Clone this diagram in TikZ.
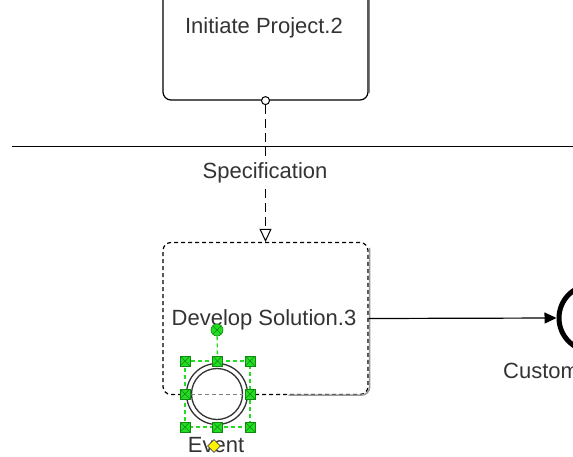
\documentclass[tikz,border=0pt]{standalone}
\usepackage{fontspec}
\setmainfont{Liberation Sans}
\usetikzlibrary{arrows.meta,shapes.geometric}
\definecolor{txt}{HTML}{333333}
\definecolor{hgreen}{HTML}{22DD22}
\definecolor{hdark}{HTML}{118811}
\tikzset{
  taskbox/.style={draw, rounded corners=8pt, line width=1.2pt, minimum width=205pt, inner sep=0pt},
  lbl/.style={text=txt, font=\fontsize{22}{24}\selectfont, inner sep=1pt},
  handle/.style={draw=hdark, fill=hgreen, minimum size=10pt, inner sep=0pt, line width=0.6pt,
    path picture={\draw[hdark, line width=0.6pt] (path picture bounding box.south west) -- (path picture bounding box.north east) (path picture bounding box.north west) -- (path picture bounding box.south east);}},
  msgflow/.style={dash pattern=on 9pt off 5pt, line width=1pt, -{Triangle[open, length=13pt, width=12pt]}},
}
\begin{document}
\begin{tikzpicture}[x=1pt,y=-1pt]
\useasboundingbox (0,0) rectangle (573,456);
\clip (0,0) rectangle (573,456);
% lane separator
\coordinate (laneL) at (12,146);
\coordinate (laneR) at (573,146);
\draw[line width=1pt] (laneL) -- (laneR);
% top task
\node[taskbox, minimum height=130pt] (init) at (265.5,35) {};
\draw[gray, line width=1.2pt] ([xshift=1pt,yshift=-20pt]init.north east) -- ([xshift=1pt,yshift=8pt]init.south east);
\node[lbl] (initlbl) at (264,28) {Initiate Project.2};
% bottom task
\node[taskbox, dash pattern=on 4pt off 3pt, minimum height=152pt] (sol) at (265.5,318.5) {};
\draw[gray!80, line width=1.6pt, rounded corners=8pt] ([xshift=1pt,yshift=-6pt]sol.north east) -- ([xshift=1pt]sol.south east) -- ([xshift=-80pt]sol.south east);
\node[lbl] (sollbl) at (264,320) {Develop Solution.3};
% message flow
\node[draw, circle, minimum size=8pt, inner sep=0pt, fill=white, line width=1pt] (src) at (init.south) {};
\draw[msgflow] (src) -- (sol.north);
\node[lbl, fill=white, inner sep=3pt] (spec) at (265,173) {Specification};
% end event
\node[draw, circle, minimum size=66pt, line width=5pt, inner sep=0pt] (endev) at (592,318) {};
\draw[line width=1.2pt, -{Triangle[length=12pt, width=11pt]}] (sol.east) -- (endev.west);
\node[lbl, anchor=west] (custlbl) at (502,371) {Customer};
% attached intermediate event
\node[draw=txt, fill=white, circle, minimum size=61pt, inner sep=0pt, line width=1.3pt] (ev) at (217,394) {};
\node[draw=txt, circle, minimum size=51pt, inner sep=0pt, line width=1.3pt] (evin) at (217,394) {};
\draw[gray, dash pattern=on 4pt off 3pt, line width=0.8pt] (evin.west) -- (evin.east);
% selection handles
\coordinate (selNW) at (185,361);
\coordinate (selSE) at (250,427);
\draw[hgreen, dash pattern=on 4pt off 3pt, line width=1.3pt] (selNW) rectangle (selSE);
\node[draw=hdark, fill=hgreen, circle, minimum size=12pt, inner sep=0pt, line width=0.6pt,
  path picture={\draw[hdark, line width=0.6pt] (path picture bounding box.south west) -- (path picture bounding box.north east) (path picture bounding box.north west) -- (path picture bounding box.south east);}] (rot) at (217,330) {};
\node[handle] (h1) at (185,361) {};
\node[handle] (h2) at (217.5,361) {};
\node[handle] (h3) at (250,361) {};
\node[handle] (h4) at (185,394) {};
\node[handle] (h5) at (250,394) {};
\node[handle] (h6) at (185,427) {};
\node[handle] (h7) at (217.5,427) {};
\node[handle] (h8) at (250,427) {};
\draw[hgreen, dash pattern=on 4pt off 3pt, line width=1.3pt] (rot) -- (h2);
\node[lbl] (evlbl) at (216,445) {Event};
\node[draw=black!70, fill=yellow, diamond, minimum size=13pt, inner sep=0pt, line width=0.6pt] (dia) at (214,446) {};
\end{tikzpicture}
\end{document}
